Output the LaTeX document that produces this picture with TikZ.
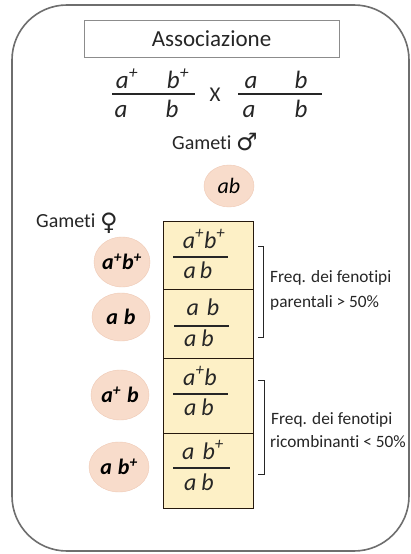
\documentclass[tikz,border=0pt]{standalone}
\usepackage{fontspec}
\setmainfont{Carlito}[RawFeature={-liga}]
\newfontfamily\symfont{DejaVu Sans}
\newcommand\pl{\textsuperscript{+}}
\newcommand\gs{\hspace{6pt}}
\definecolor{gam}{HTML}{F8DCCB}
\definecolor{gamb}{HTML}{EFC9B5}
\definecolor{cell}{HTML}{FDF0C6}
\definecolor{frame}{HTML}{6E6E6E}
\usetikzlibrary{shapes.geometric}
\begin{document}
\begin{tikzpicture}[x=1pt,y=-1pt,
  gamete/.style={ellipse,fill=gam,draw=gamb,line width=0.4pt,minimum width=56,minimum height=50,inner sep=0pt,font=\fontsize{22}{22}\selectfont\bfseries\itshape},
  cellbox/.style={draw=black!80!brown,fill=cell,line width=0.9pt,minimum width=90,inner sep=0pt},
  gen/.style={font=\fontsize{25}{25}\selectfont\itshape,text=black!85,inner sep=0pt,anchor=base},
  cgen/.style={font=\fontsize{24}{24}\selectfont\itshape,text=black!85,inner sep=0pt,anchor=base},
  lab/.style={font=\fontsize{17.3}{20}\selectfont,text=black!85,inner sep=0pt,anchor=base west},
  fracline/.style={line width=1.4pt,black!85},
  brk/.style={line width=0.9pt,black!85}]
\useasboundingbox (0,0) rectangle (411,554);
\node[fill=white,inner sep=0pt,minimum width=411,minimum height=554] (bg) at (205.5,277) {};
\draw[frame,line width=1.6pt,rounded corners=55pt] (12,5) rectangle (409,551);
% title
\node[draw=black!45,line width=0.6pt,minimum width=255,minimum height=37,inner sep=0pt,font=\fontsize{23}{23}\selectfont,text=black!85] (title) at (211.5,38.5) {Associazione};
% cross
\node[gen] (p1a) at (127,88) {a\pl};
\node[gen] (p1b) at (178,88) {b\pl};
\node[gen] (p1c) at (121,117) {a};
\node[gen] (p1d) at (172,117) {b};
\coordinate (l1s) at (112,94); \coordinate (l1e) at (195,94);
\draw[fracline] (l1s) -- (l1e);
\node[font=\fontsize{21}{21}\selectfont,text=black!85,inner sep=0pt] (x) at (215,95) {X};
\node[gen] (p2a) at (251,88) {a};
\node[gen] (p2b) at (301,88) {b};
\node[gen] (p2c) at (249,117) {a};
\node[gen] (p2d) at (301,117) {b};
\coordinate (l2s) at (238,94); \coordinate (l2e) at (322,94);
\draw[fracline] (l2s) -- (l2e);
% gametes
\node[font=\fontsize{20}{20}\selectfont,text=black!85,inner sep=0pt,anchor=base west] (gm) at (172,149) {Gameti {\symfont\fontsize{24}{24}\selectfont\raisebox{-1pt}{♂}}};
\node[gamete,minimum width=50,minimum height=42,font=\fontsize{22}{22}\selectfont\itshape] (gab) at (229,186) {ab};
\node[font=\fontsize{20}{20}\selectfont,text=black!85,inner sep=0pt,anchor=base west] (gf) at (36,227) {Gameti {\symfont\fontsize{24}{24}\selectfont\raisebox{-3pt}{♀}}};
% table
\node[cellbox,minimum height=68,anchor=north] (c1) at (208,221) {};
\node[cellbox,minimum height=69,anchor=north] (c2) at (208,289) {};
\node[cellbox,minimum height=75,anchor=north] (c3) at (208,358) {};
\node[cellbox,minimum height=75,anchor=north] (c4) at (208,433) {};
% female gametes
\node[gamete] (f1) at (122,262) {a\pl b\pl};
\node[gamete,minimum width=58,minimum height=48] (f2) at (121,317) {a\gs b};
\node[gamete,minimum width=58,minimum height=50] (f3) at (120,395) {a\pl\gs b};
\node[gamete,minimum width=60,minimum height=50] (f4) at (119,467) {a\gs b\pl};
% cell fractions
\node[cgen] (n1) at (204,248) {a\pl b\pl};
\node[cgen] (d1) at (198,278) {a\hspace{4pt}b};
\coordinate (s1) at (173,257); \coordinate (e1) at (228,257);
\draw[fracline] (s1) -- (e1);
\node[cgen] (n2) at (203,315) {a\hspace{8pt}b};
\node[cgen] (d2) at (199,346) {a\hspace{5pt}b};
\coordinate (s2) at (174,326); \coordinate (e2) at (229,326);
\draw[fracline] (s2) -- (e2);
\node[cgen] (n3) at (200,385) {a\pl b};
\node[cgen] (d3) at (199,415) {a\hspace{5pt}b};
\coordinate (s3) at (173,394); \coordinate (e3) at (228,394);
\draw[fracline] (s3) -- (e3);
\node[cgen] (n4) at (203,459) {a\hspace{8pt}b\pl};
\node[cgen] (d4) at (199,490) {a\hspace{5pt}b};
\coordinate (s4) at (173,468); \coordinate (e4) at (230,468);
\draw[fracline] (s4) -- (e4);
% brackets
\coordinate (b1t) at (258,246); \coordinate (b1b) at (258,337);
\draw[brk] (b1t) -- ++(5,0) |- (b1b);
\coordinate (b2t) at (258,380); \coordinate (b2b) at (258,474);
\draw[brk] (b2t) -- ++(6,0) |- (b2b);
\node[lab] (t1) at (270,282) {Freq. dei fenotipi};
\node[lab] (t2) at (270,307) {parentali > 50\%};
\node[lab] (t3) at (271,424) {Freq. dei fenotipi};
\node[lab] (t4) at (270,447) {ricombinanti < 50\%};
\end{tikzpicture}
\end{document}
